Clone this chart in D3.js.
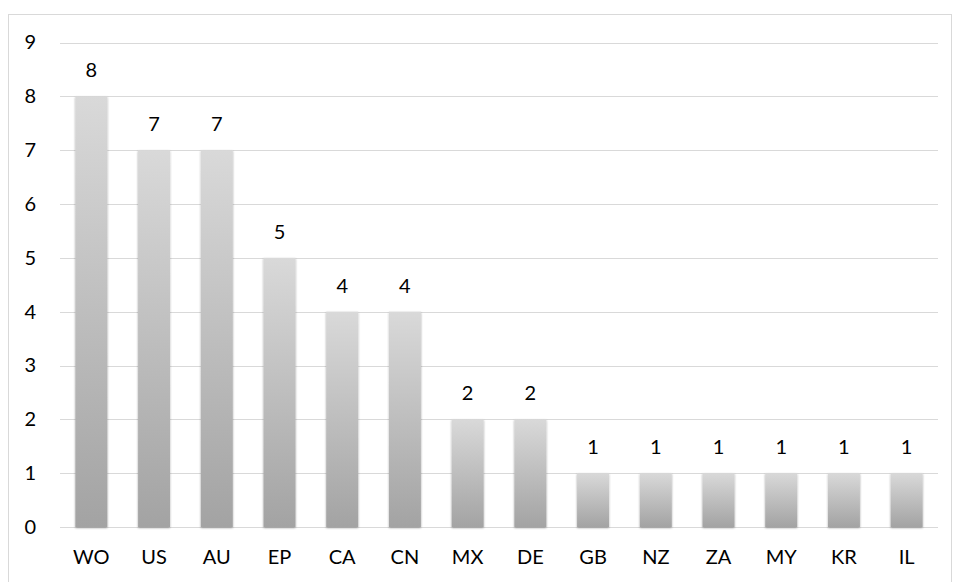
<!DOCTYPE html>
<html>
<head>
<meta charset="utf-8">
<script src="https://cdn.jsdelivr.net/npm/d3@7/dist/d3.min.js"></script>
<style>
  html, body { margin: 0; padding: 0; background: #fff; }
  svg { display: block; font-family: Lato, "Open Sans", sans-serif; }
</style>
</head>
<body>
<svg id="chart" width="955" height="582"></svg>
<script>
// Record counts per office code
const categories = ["WO", "US", "AU", "EP", "CA", "CN", "MX", "DE", "GB", "NZ", "ZA", "MY", "KR", "IL"];
const counts = [8, 7, 7, 5, 4, 4, 2, 2, 1, 1, 1, 1, 1, 1];
const yTicks = [0, 1, 2, 3, 4, 5, 6, 7, 8, 9];

const svg = d3.select("#chart");
const plot = { left: 60, right: 938, top: 42.5, bottom: 527 };
const fontSize = 20;

// Outer frame (open at the bottom edge of the canvas)
svg.append("rect")
  .attr("x", 8.5).attr("y", 14.5)
  .attr("width", 943).attr("height", 600)
  .attr("fill", "none").attr("stroke", "#d9d9d9").attr("stroke-width", 1);

const x = d3.scaleBand().domain(categories).range([plot.left, plot.right]).paddingInner(0.49).paddingOuter(0.245);
const y = d3.scaleLinear().domain([0, 9]).range([plot.bottom, plot.top]);

const defs = svg.append("defs");
const grad = defs.append("linearGradient")
  .attr("id", "barGrad").attr("x1", 0).attr("y1", 0).attr("x2", 0).attr("y2", 1);
grad.append("stop").attr("offset", "0%").attr("stop-color", "#d9d9d9");
grad.append("stop").attr("offset", "100%").attr("stop-color", "#a3a3a3");

const shadow = defs.append("filter").attr("id", "softShadow")
  .attr("x", "-20%").attr("y", "-5%").attr("width", "140%").attr("height", "115%");
shadow.append("feGaussianBlur").attr("in", "SourceAlpha").attr("stdDeviation", 1.2).attr("result", "blur");
shadow.append("feOffset").attr("in", "blur").attr("dx", 0).attr("dy", 1).attr("result", "off");
shadow.append("feComponentTransfer").attr("in", "off").attr("result", "shade")
  .append("feFuncA").attr("type", "linear").attr("slope", 0.35);
const merge = shadow.append("feMerge");
merge.append("feMergeNode").attr("in", "shade");
merge.append("feMergeNode").attr("in", "SourceGraphic");

// Horizontal gridlines
svg.append("g")
  .selectAll("line")
  .data(yTicks)
  .join("line")
  .attr("x1", plot.left).attr("x2", plot.right)
  .attr("y1", d => Math.round(y(d)) + 0.5).attr("y2", d => Math.round(y(d)) + 0.5)
  .attr("stroke", "#d9d9d9").attr("stroke-width", 1);

// Y axis labels
const yAxis = d3.axisLeft(y).tickValues(yTicks).tickSize(0).tickPadding(0).tickFormat(d3.format("d"));
svg.append("g")
  .attr("transform", `translate(36,0)`)
  .call(yAxis)
  .call(g => g.select(".domain").remove())
  .call(g => g.selectAll("text").attr("font-size", fontSize).attr("fill", "#000").attr("font-family", "Lato, 'Open Sans', sans-serif"));

// Bars
svg.append("g")
  .selectAll("rect")
  .data(categories)
  .join("rect")
  .attr("x", d => x(d))
  .attr("y", (d, i) => y(counts[i]))
  .attr("width", x.bandwidth())
  .attr("height", (d, i) => y(0) - y(counts[i]))
  .attr("fill", "url(#barGrad)")
  .attr("filter", "url(#softShadow)");

// Value labels above bars
svg.append("g")
  .selectAll("text")
  .data(categories)
  .join("text")
  .attr("x", d => x(d) + x.bandwidth() / 2)
  .attr("y", (d, i) => y(counts[i]) - 19)
  .attr("text-anchor", "middle")
  .attr("font-size", fontSize)
  .attr("fill", "#000")
  .text((d, i) => counts[i]);

// X axis labels
const xAxis = d3.axisBottom(x).tickSize(0).tickPadding(0);
svg.append("g")
  .attr("transform", `translate(0,${plot.bottom + 23})`)
  .call(xAxis)
  .call(g => g.select(".domain").remove())
  .call(g => g.selectAll("text").attr("font-size", fontSize).attr("fill", "#000").attr("font-family", "Lato, 'Open Sans', sans-serif"));
</script>
</body>
</html>
